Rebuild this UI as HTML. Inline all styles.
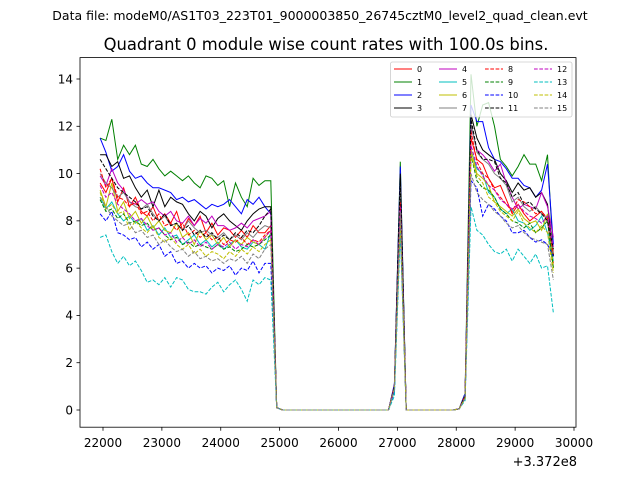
<!DOCTYPE html>
<html><head><meta charset="utf-8"><style>
html,body{margin:0;padding:0;background:#fff;}
svg text{font-family:"DejaVu Sans","Liberation Sans",sans-serif;}
</style></head><body>
<svg id="chart" width="640" height="480" viewBox="0 0 640 480" xmlns="http://www.w3.org/2000/svg">
<rect width="640" height="480" fill="#fff"/>
<text x="320" y="20" font-size="12.5" text-anchor="middle">Data file: modeM0/AS1T03_223T01_9000003850_26745cztM0_level2_quad_clean.evt</text>
<text x="326" y="50" font-size="16.4" text-anchor="middle">Quadrant 0 module wise count rates with 100.0s bins.</text>
<g id="series"></g>
<rect x="80" y="57.6" width="496" height="369.6" fill="none" stroke="#000" stroke-width="0.8"/>
<g id="xaxis"></g>
<g id="yaxis"></g>
<text x="577" y="466" font-size="13" text-anchor="end">+3.372e8</text>
<g id="legend"></g>
</svg>
<script>
const xTicks=[22000,23000,24000,25000,26000,27000,28000,29000,30000];
const yTicks=[0,2,4,6,8,10,12,14];
const seriesNames=["0","1","2","3","4","5","6","7","8","9","10","11","12","13","14","15"];
const seg1Start=21950, seg3Start=28250, binStep=100;
const seg1=[
[9.6,9.2,9.8,8.8,9.4,8.6,9.0,8.4,8.2,8.6,8.0,8.3,7.9,8.4,7.6,8.1,7.8,8.2,7.5,7.9,7.4,7.7,7.6,7.3,7.6,7.3,7.8,7.5,7.5,7.8],
[11.5,11.4,12.3,10.6,11.2,10.8,11.2,10.4,10.3,10.6,10.2,9.9,10.1,9.9,9.7,9.9,9.6,9.4,9.9,9.8,9.5,9.7,8.6,9.6,9.0,8.6,9.8,9.5,9.7,9.7],
[11.5,10.9,10.1,10.3,10.8,10.1,9.8,9.9,9.6,9.4,9.4,9.3,9.2,8.9,9.0,8.8,8.9,8.7,8.5,8.7,8.6,8.7,8.9,8.6,8.3,8.9,8.7,9.0,8.6,8.3],
[10.8,10.8,10.3,10.5,9.8,9.9,9.4,9.0,9.3,8.6,9.3,8.6,9.0,8.8,8.7,8.3,8.0,8.4,8.2,7.7,8.1,8.3,8.0,7.8,7.6,8.0,8.3,8.5,8.6,8.6],
[9.9,9.5,10.2,9.6,9.3,8.8,8.7,8.9,8.7,8.8,8.4,8.2,8.4,8.0,7.9,8.2,7.8,8.1,7.9,8.2,7.8,7.8,7.6,7.7,7.9,7.7,8.0,8.1,8.2,8.4],
[9.0,8.5,8.8,8.3,8.0,8.2,7.9,8.1,7.6,7.8,7.4,7.7,7.3,7.4,7.0,7.2,7.4,7.0,7.2,6.9,7.1,6.8,7.0,7.2,6.9,6.8,7.1,7.0,6.8,7.5],
[9.3,8.6,9.6,8.4,8.8,8.1,8.4,7.9,8.2,7.7,8.0,7.6,7.5,7.9,7.3,7.5,7.0,7.6,7.2,7.4,7.0,7.3,6.9,7.2,7.0,7.3,7.1,7.0,7.3,7.6],
[10.0,9.6,9.4,9.0,9.2,8.8,8.6,8.5,8.7,8.3,8.0,8.2,7.8,7.9,7.6,8.0,7.7,7.5,7.6,7.4,7.3,7.5,7.2,7.4,7.2,7.5,7.3,7.6,7.8,7.7],
[10.2,9.4,9.8,9.0,8.9,8.6,8.8,8.3,8.4,8.0,8.3,7.8,7.9,7.6,7.9,7.4,7.6,7.3,7.5,7.2,7.3,7.0,7.2,7.1,7.3,7.0,7.2,7.1,7.4,7.6],
[8.9,8.4,8.5,8.1,8.3,7.9,8.0,7.8,7.9,7.6,7.7,7.4,7.2,7.3,7.0,7.1,6.9,7.0,6.9,6.8,7.0,6.8,6.9,6.7,6.8,7.0,6.9,7.0,7.2,7.4],
[8.3,8.0,8.4,7.5,7.4,7.2,7.3,6.9,7.1,6.8,7.0,6.5,6.7,6.2,6.3,6.0,6.2,6.0,6.1,5.8,6.0,5.9,6.1,5.7,6.0,5.9,6.3,5.8,6.2,6.2],
[10.6,10.2,9.8,9.4,9.2,9.0,8.8,8.5,8.6,8.2,8.0,8.3,7.8,7.9,7.6,7.8,7.4,7.6,7.3,7.5,7.2,7.4,7.2,7.5,7.3,7.6,7.5,7.8,8.2,8.5],
[9.5,9.0,9.2,8.7,8.5,8.3,8.0,8.1,7.8,7.6,7.7,7.4,7.5,7.1,7.3,7.0,7.2,6.9,7.1,6.8,7.0,6.9,7.1,6.8,7.0,6.9,7.2,7.0,7.3,7.6],
[7.3,7.4,6.7,6.2,6.5,6.1,6.3,5.9,5.4,5.5,5.3,5.6,5.2,5.6,5.5,5.1,5.0,5.0,4.9,5.2,5.4,5.0,5.3,5.5,5.1,4.6,5.5,5.3,5.6,5.5],
[9.2,8.5,8.7,8.3,8.4,7.6,8.0,7.7,7.5,7.8,7.3,7.1,7.3,7.0,6.8,7.0,6.6,6.8,6.5,6.7,6.6,6.4,6.7,6.5,6.8,6.6,6.9,6.7,7.0,7.2],
[9.0,8.6,8.2,8.0,7.8,7.9,7.5,7.6,7.3,7.4,7.0,7.2,6.9,6.7,6.8,6.5,6.7,6.4,6.5,6.3,6.4,6.2,6.4,6.3,6.5,6.2,6.6,6.4,6.8,7.0]];
const seg3=[
[11.5,10.6,10.4,9.8,9.4,9.5,8.9,8.3,8.7,8.3,8.0,8.2,8.4,8.0,6.2],
[14.2,12.0,12.9,13.0,12.0,10.6,10.3,9.9,10.3,10.8,10.4,10.4,9.7,10.8,6.5],
[12.9,12.2,12.2,11.1,10.6,10.5,10.2,9.8,9.8,9.5,9.4,9.0,9.3,10.4,7.0],
[12.5,11.5,11.0,10.8,10.6,10.0,9.7,9.2,9.6,9.3,9.4,9.0,9.2,8.7,6.5],
[12.0,11.0,10.8,10.5,10.1,10.4,9.6,9.0,8.5,8.7,8.6,8.5,9.2,8.6,7.3],
[11.0,10.2,10.0,9.2,9.0,8.5,8.3,8.5,8.0,7.9,7.6,7.8,8.2,7.5,6.3],
[11.0,10.0,9.8,9.5,8.8,8.6,8.4,8.2,8.5,8.1,7.9,8.0,7.6,8.3,6.0],
[12.1,10.9,10.6,10.4,10.0,9.8,9.5,8.8,9.0,8.6,8.4,8.6,8.3,8.1,6.6],
[11.8,10.5,10.0,9.8,9.3,9.0,8.7,8.4,8.9,8.8,8.6,8.3,8.4,8.1,6.6],
[10.8,9.7,9.4,9.3,9.0,8.5,8.3,8.0,7.9,7.7,7.9,7.5,7.7,8.0,6.0],
[9.7,9.4,8.2,8.7,8.5,8.2,8.0,7.5,7.5,7.6,7.3,7.1,7.2,7.0,6.5],
[12.3,11.0,10.6,10.6,10.5,9.8,9.6,9.0,9.2,8.7,8.8,8.5,8.3,8.0,6.8],
[11.2,10.3,9.9,9.5,9.3,8.9,8.7,8.5,8.7,8.4,8.2,8.1,7.9,8.2,6.9],
[8.6,7.6,7.4,7.0,6.7,6.6,6.8,6.3,6.8,6.5,6.2,6.6,6.0,6.1,4.1],
[10.8,9.9,9.6,9.0,8.8,8.4,8.2,8.0,8.4,7.9,7.7,7.5,7.8,7.5,5.8],
[10.0,9.2,8.9,8.7,8.4,8.2,7.9,7.7,7.8,7.5,7.3,7.2,7.1,7.0,5.5]];
const spikePeak=[9.2,10.5,10.3,10.0,9.0,8.5,8.0,9.5,8.8,8.2,7.8,9.8,8.6,7.5,8.0,8.4];
const spikeRise=[1.0,1.0,1.1,1.0,0.9,0.8,0.9,1.0,1.0,0.9,0.8,1.0,0.9,0.6,0.9,0.9];
const preRise=[0.6,0.7,0.7,0.6,0.6,0.5,0.6,0.6,0.6,0.5,0.5,0.6,0.5,0.4,0.5,0.5];
const colors=["#ff0000","#008000","#0000ff","#000000","#bf00bf","#00bfbf","#bfbf00","#808080","#ff0000","#008000","#0000ff","#000000","#bf00bf","#00bfbf","#bfbf00","#808080"];

const NS="http://www.w3.org/2000/svg";
const xs=v=>103+(v-22000)*0.058875;
const ys=v=>410-v*23.643;
function buildSeries(i){
  const pts=[];
  seg1[i].forEach((v,k)=>pts.push([seg1Start+k*binStep,v]));
  pts.push([24950,0.1]);
  for(let t=25050;t<=26850;t+=binStep)pts.push([t,0]);
  pts.push([26950,spikeRise[i]]);
  pts.push([27050,spikePeak[i]]);
  for(let t=27150;t<=27950;t+=binStep)pts.push([t,0]);
  pts.push([28050,0.05]);
  pts.push([28150,preRise[i]]);
  seg3[i].forEach((v,k)=>pts.push([seg3Start+k*binStep,v]));
  return pts;
}
const sg=document.getElementById('series');
seriesNames.forEach((n,i)=>{
  const p=document.createElementNS(NS,'polyline');
  p.setAttribute('points',buildSeries(i).map(q=>xs(q[0]).toFixed(1)+','+ys(q[1]).toFixed(1)).join(' '));
  p.setAttribute('fill','none');p.setAttribute('stroke',colors[i]);p.setAttribute('stroke-width','1');
  if(i>=8)p.setAttribute('stroke-dasharray','3.7,1.6');
  
  
  sg.appendChild(p);
});
const xg=document.getElementById('xaxis');
xTicks.forEach(t=>{
  const x=xs(t);
  const l=document.createElementNS(NS,'line');
  l.setAttribute('x1',x);l.setAttribute('x2',x);l.setAttribute('y1',427.2);l.setAttribute('y2',430.7);l.setAttribute('stroke','#000');l.setAttribute('stroke-width','0.8');
  
  
  xg.appendChild(l);
  const tx=document.createElementNS(NS,'text');
  tx.setAttribute('x',x);tx.setAttribute('y',447);tx.setAttribute('font-size','12');tx.setAttribute('text-anchor','middle');
  tx.textContent=t;
  
  
  xg.appendChild(tx);
});
const yg=document.getElementById('yaxis');
yTicks.forEach(t=>{
  const y=ys(t);
  const l=document.createElementNS(NS,'line');
  l.setAttribute('x1',76.5);l.setAttribute('x2',80);l.setAttribute('y1',y);l.setAttribute('y2',y);l.setAttribute('stroke','#000');l.setAttribute('stroke-width','0.8');
  
  
  yg.appendChild(l);
  const tx=document.createElementNS(NS,'text');
  tx.setAttribute('x',73);tx.setAttribute('y',y+4.3);tx.setAttribute('font-size','12');tx.setAttribute('text-anchor','end');
  tx.textContent=t;
  
  
  yg.appendChild(tx);
});
const lg=document.getElementById('legend');
const box=document.createElementNS(NS,'rect');
box.setAttribute('x',390.5);box.setAttribute('y',62);box.setAttribute('width',181.5);box.setAttribute('height',55);box.setAttribute('rx',2);
box.setAttribute('fill','#fff');box.setAttribute('fill-opacity','0.8');box.setAttribute('stroke','#ccc');box.setAttribute('stroke-width','0.8');


lg.appendChild(box);
const colX=[394,439,485,534];
seriesNames.forEach((n,i)=>{
  const c=Math.floor(i/4), r=i%4;
  const x=colX[c], y=69+r*13;
  const l=document.createElementNS(NS,'line');
  l.setAttribute('x1',x);l.setAttribute('x2',x+18);l.setAttribute('y1',y);l.setAttribute('y2',y);
  l.setAttribute('stroke',colors[i]);l.setAttribute('stroke-width','1');
  if(i>=8)l.setAttribute('stroke-dasharray','3.7,1.6');
  
  
  lg.appendChild(l);
  const tx=document.createElementNS(NS,'text');
  tx.setAttribute('x',x+23);tx.setAttribute('y',y+2.9);tx.setAttribute('font-size','8');
  tx.textContent=n;
  
  
  lg.appendChild(tx);
});
</script>
</body></html>
